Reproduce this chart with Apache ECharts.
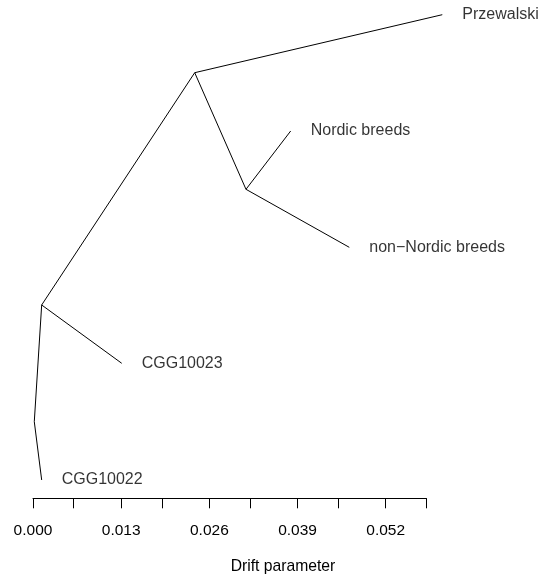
<!DOCTYPE html>
<html><head><meta charset="utf-8">
<script src="https://cdn.jsdelivr.net/npm/echarts@6/dist/echarts.min.js"></script>
<style>html,body{margin:0;padding:0;background:#fff}#c{width:540px;height:579px}</style>
</head><body><div id="c"></div>
<script>
// Tree nodes: [drift (x), vertical position (y, 0..1)]
const nodeNames = ["root", "nodeC", "nodeA", "nodeB", "CGG10022", "CGG10023", "Przewalski", "Nordic breeds", "non\u2212Nordic breeds"];
const nodeX = [0.00019, 0.00128, 0.02384, 0.03140, 0.00128, 0.01308, 0.06034, 0.03799, 0.04663];
const nodeY = [0.1569, 0.3959, 0.8716, 0.6328, 0.0375, 0.2765, 0.9904, 0.7522, 0.5140];
const isTip = [false, false, false, false, true, true, true, true, true];
// Edges as [from, to] indices
const edges = [[0,4],[0,1],[1,5],[1,2],[2,6],[2,3],[3,7],[3,8]];
// Axis ticks
const tickValues = [0, 0.006, 0.013, 0.019, 0.026, 0.032, 0.039, 0.045, 0.052, 0.058];
const labelValues = [0, 0.013, 0.026, 0.039, 0.052];

const FONT = "'Liberation Sans', Arial, Helvetica, sans-serif";
const PX_PER_UNIT = 6783;
const AXIS_MAX = 0.058, DATA_MAX = 0.07;

const series = edges.map(e => ({
  type: 'line', xAxisIndex: 1, yAxisIndex: 1, clip: false, symbol: 'none', silent: true, animation: false,
  lineStyle: {color: '#000', width: 1},
  data: [[nodeX[e[0]], nodeY[e[0]]], [nodeX[e[1]], nodeY[e[1]]]]
}));
series.push({
  type: 'scatter', xAxisIndex: 1, yAxisIndex: 1, clip: false, symbolSize: 0, animation: false, silent: true,
  data: nodeNames.map((n, i) => isTip[i] ? {name: n, value: [nodeX[i], nodeY[i]]} : null).filter(d => d),
  label: {show: true, position: 'right', distance: 20, formatter: p => p.name,
          color: '#000', fontSize: 16, fontFamily: FONT}
});

const chart = echarts.init(document.getElementById('c'), null, {renderer: 'canvas'});
chart.setOption({
  animation: false,
  backgroundColor: '#fff',
  grid: [
    {left: 33, top: 10, width: PX_PER_UNIT * AXIS_MAX, height: 488.3, containLabel: false},
    {left: 33, top: 10, width: PX_PER_UNIT * DATA_MAX, height: 488.3, containLabel: false}
  ],
  xAxis: [{
    gridIndex: 0, type: 'value', min: 0, max: AXIS_MAX,
    splitLine: {show: false},
    axisLine: {show: true, lineStyle: {color: '#000', width: 1}},
    axisTick: {show: true, length: 10, lineStyle: {color: '#000', width: 1}, customValues: tickValues},
    axisLabel: {show: true, customValues: labelValues, margin: 24, color: '#000', fontSize: 15.5, fontFamily: FONT,
                formatter: v => v.toFixed(3)},
  }, {
    gridIndex: 1, type: 'value', min: 0, max: DATA_MAX, show: false
  }],
  yAxis: [
    {gridIndex: 0, type: 'value', min: 0, max: 1, show: false},
    {gridIndex: 1, type: 'value', min: 0, max: 1, show: false}
  ],
  graphic: [{
    type: 'text', x: 283, y: 566.7,
    style: {text: 'Drift parameter', fill: '#000', font: '15.7px ' + FONT, textAlign: 'center', textVerticalAlign: 'middle'}
  }],
  series: series
});
</script></body></html>
